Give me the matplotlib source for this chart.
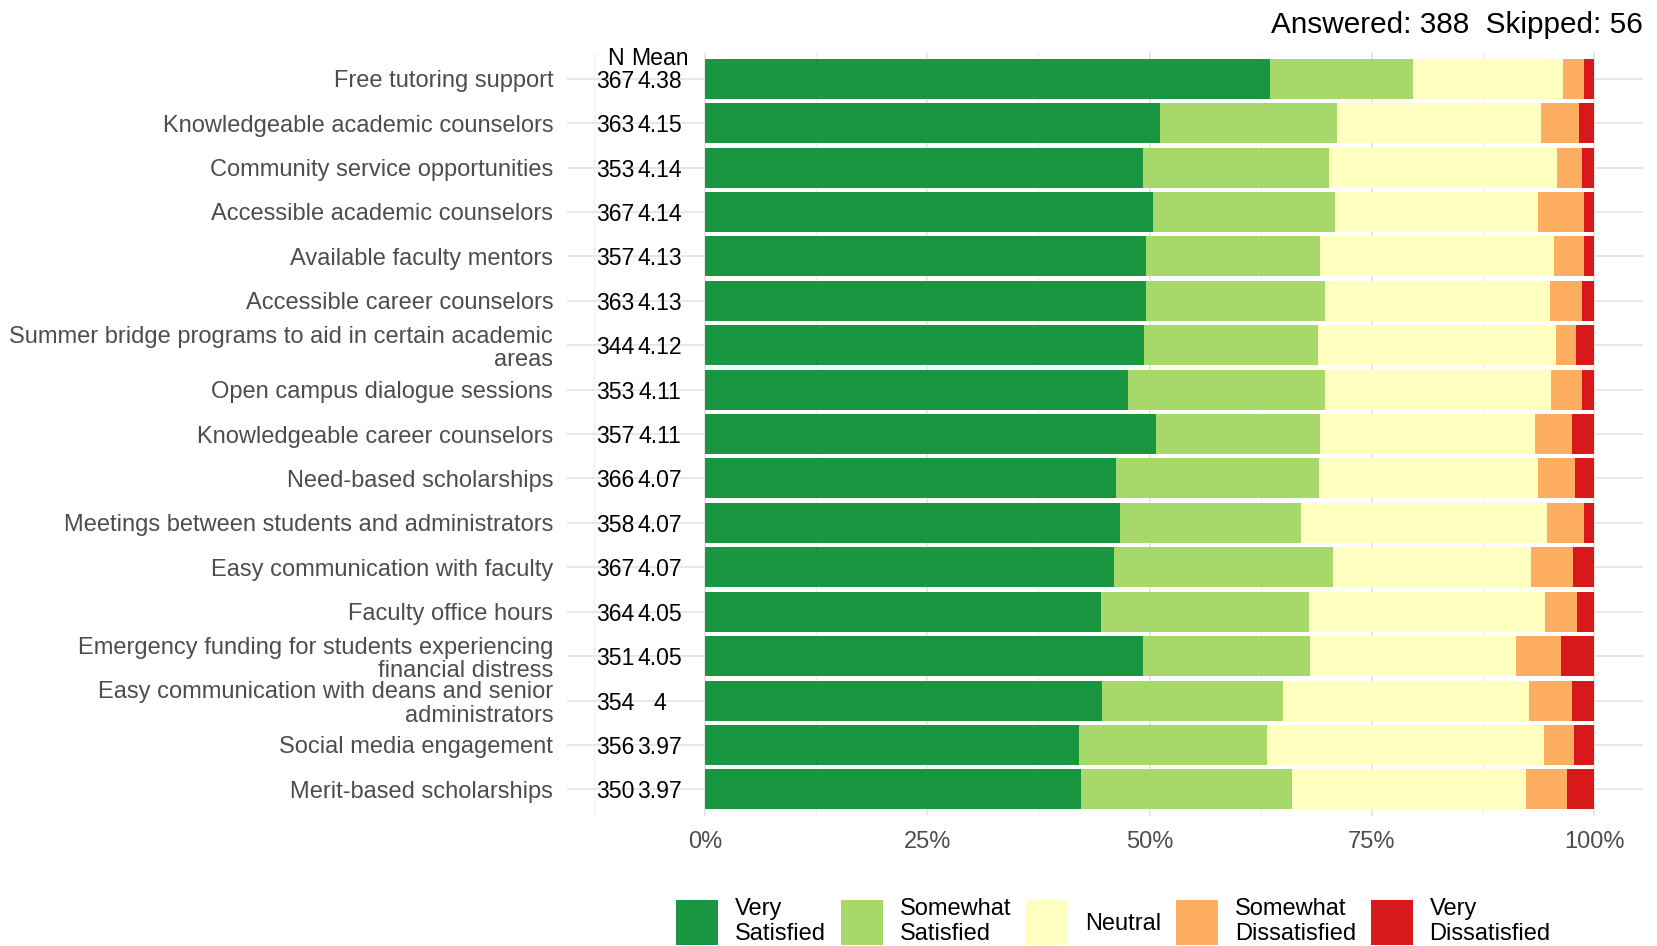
import matplotlib
matplotlib.use("Agg")
import matplotlib.pyplot as plt
import numpy as np

plt.rcParams['font.family'] = ['Liberation Sans', 'DejaVu Sans']

categories = [
    "Free tutoring support",
    "Knowledgeable academic counselors",
    "Community service opportunities",
    "Accessible academic counselors",
    "Available faculty mentors",
    "Accessible career counselors",
    "Summer bridge programs to aid in certain academic\nareas",
    "Open campus dialogue sessions",
    "Knowledgeable career counselors",
    "Need-based scholarships",
    "Meetings between students and administrators",
    "Easy communication with faculty",
    "Faculty office hours",
    "Emergency funding for students experiencing\nfinancial distress",
    "Easy communication with deans and senior\nadministrators",
    "Social media engagement",
    "Merit-based scholarships",
]
n_resp = [367, 363, 353, 367, 357, 363, 344, 353, 357, 366, 358, 367, 364, 351, 354, 356, 350]
means = [4.38, 4.15, 4.14, 4.14, 4.13, 4.13, 4.12, 4.11, 4.11, 4.07, 4.07, 4.07, 4.05, 4.05, 4, 3.97, 3.97]

levels = ["Very\nSatisfied", "Somewhat\nSatisfied", "Neutral", "Somewhat\nDissatisfied", "Very\nDissatisfied"]
very_satisfied = [63.5, 51.2, 49.3, 50.4, 49.6, 49.6, 49.4, 47.6, 50.7, 46.2, 46.7, 46.0, 44.5, 49.3, 44.7, 42.1, 42.3]
somewhat_satisfied = [16.1, 19.9, 20.9, 20.5, 19.6, 20.1, 19.5, 22.1, 18.5, 22.9, 20.3, 24.6, 23.4, 18.8, 20.3, 21.1, 23.7]
neutral = [16.9, 22.9, 25.6, 22.8, 26.3, 25.3, 26.8, 25.5, 24.1, 24.6, 27.7, 22.3, 26.6, 23.1, 27.7, 31.2, 26.3]
somewhat_dissatisfied = [2.35, 4.3, 2.8, 5.15, 3.35, 3.6, 2.3, 3.4, 4.2, 4.1, 4.2, 4.7, 3.6, 5.1, 4.8, 3.3, 4.6]
very_dissatisfied = [1.15, 1.7, 1.4, 1.15, 1.15, 1.4, 2.0, 1.4, 2.5, 2.2, 1.1, 2.4, 1.9, 3.7, 2.5, 2.3, 3.1]

answered = 388
skipped = 56

colors = ["#1a9641", "#a6d96a", "#ffffbf", "#fdae61", "#d7191c"]
series = [very_satisfied, somewhat_satisfied, neutral, somewhat_dissatisfied, very_dissatisfied]

fig = plt.figure(figsize=(16.57, 9.46), dpi=100)
ax = fig.add_axes([0.3422, 0.1374, 0.9916 - 0.3422, 0.8076])

y = np.arange(len(categories))
left = np.zeros(len(categories))
handles = []
for vals, col, lab in zip(series, colors, levels):
    vals = np.asarray(vals, dtype=float)
    h = ax.barh(y, vals, left=left, height=0.9, color=col, linewidth=0, label=lab, zorder=2)
    handles.append(h)
    left += vals

ax.set_xlim(-15.5, 105.5)
ax.set_ylim(len(categories) - 0.4, -0.6)

ax.set_xticks([0, 25, 50, 75, 100])
ax.set_xticklabels(["0%", "25%", "50%", "75%", "100%"])
ax.set_xticks([-12.5, 12.5, 37.5, 62.5, 87.5], minor=True)
ax.set_yticks(y)
ax.set_yticklabels(categories, linespacing=1.1)

ax.tick_params(axis='both', which='both', length=0, labelsize=17, labelcolor="#4d4d4d")
ax.tick_params(axis='y', pad=10)
ax.tick_params(axis='x', pad=11)

ax.grid(True, which='major', axis='both', color="#e6e6e6", linewidth=1.3, zorder=0)
ax.grid(True, which='minor', axis='x', color="#f0f0f0", linewidth=0.8, zorder=0)
ax.set_axisbelow(True)
for s in ax.spines.values():
    s.set_visible(False)

# N and Mean columns to the left of the bars
n_x, mean_x = -10.05, -5.1
for yi, n, m in zip(y, n_resp, means):
    ax.text(n_x, yi, f"{n}", ha='center', va='center_baseline', fontsize=16.6, color="black", zorder=3)
    ax.text(mean_x, yi, f"{m:g}", ha='center', va='center_baseline', fontsize=16.6, color="black", zorder=3)
ax.text(n_x, -0.5, "N", ha='center', va='center_baseline', fontsize=16.6, color="black", clip_on=False)
ax.text(mean_x, -0.5, "Mean", ha='center', va='center_baseline', fontsize=16.6, color="black", clip_on=False)

fig.text(0.9916, 0.977, f"Answered: {answered}  Skipped: {skipped}", ha='right', va='center_baseline',
         fontsize=21.4, color="black")

fig.legend(handles=handles, labels=levels, loc='center', bbox_to_anchor=(0.672, 0.026),
           ncol=5, frameon=False, fontsize=17, handlelength=1.78, handleheight=2.56,
           handletextpad=0.7, columnspacing=0.64, borderpad=0, borderaxespad=0)

fig.savefig("out.png", dpi=100, facecolor="white")
